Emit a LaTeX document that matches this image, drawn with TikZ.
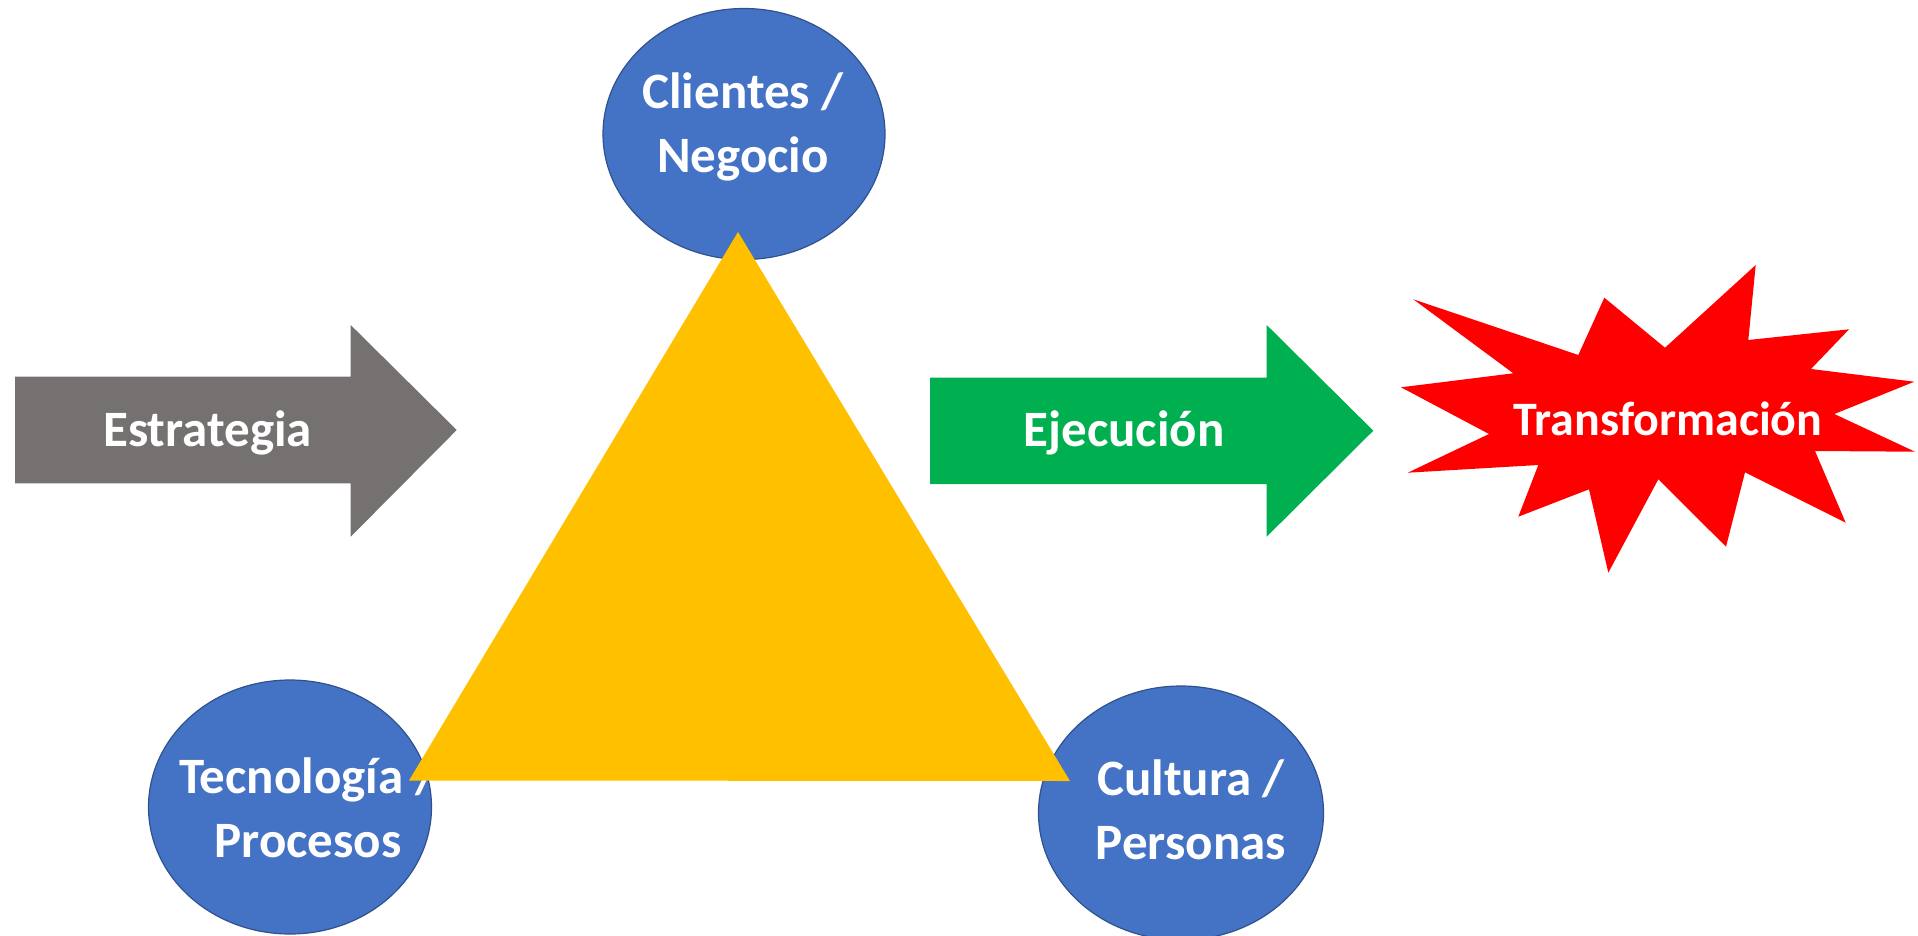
\documentclass[tikz,border=0pt]{standalone}
\usepackage{fontspec}
\setmainfont{Carlito}
\usetikzlibrary{shapes.geometric}
\definecolor{cblue}{HTML}{4472C4}
\definecolor{cbluedark}{HTML}{2F528F}
\definecolor{cgray}{HTML}{767171}
\definecolor{cgreen}{HTML}{00B050}
\definecolor{cyellow}{HTML}{FFC000}
\definecolor{cred}{HTML}{FF0000}
\begin{document}
\begin{tikzpicture}[x=1pt,y=-1pt,
  circ/.style={ellipse, fill=cblue, draw=cbluedark, line width=1.2pt, inner sep=0pt},
  lbl/.style={text=white, font=\fontsize{51}{64}\selectfont\bfseries, inner sep=0pt, align=center},
]
\useasboundingbox (0,0) rectangle (1918,936);
% circles
\node[circ, minimum width=282, minimum height=251] (cli) at (744,134) {};
\node[circ, minimum width=283, minimum height=254] (tec) at (290,807) {};
\node[circ, minimum width=285, minimum height=254] (cul) at (1181,813) {};
\node[lbl] (clit) at (743,127) {Clientes /\\Negocio};
\node[lbl] (tect) at (308,808) {Tecnología /\\Procesos};
\node[lbl] (cult) at (1191,810) {Cultura /\\Personas};
% triangle
\coordinate (ta) at (738,232);
\coordinate (tb) at (409,780.5);
\coordinate (tc) at (1070,781);
\fill[cyellow] (ta) -- (tb) -- (tc) -- cycle;
% arrows
\fill[cgray] (15,376.7) -- (350.7,376.7) -- (350.7,325) -- (456.7,430) -- (350.7,536.7) -- (350.7,483.3) -- (15,483.3) -- cycle;
\node[lbl, anchor=base] (est) at (207.5,446.7) {Estrategia};
\fill[cgreen] (930,377.7) -- (1266.7,377.7) -- (1266.7,325) -- (1373.3,430.7) -- (1266.7,536.7) -- (1266.7,484) -- (930,484) -- cycle;
\node[lbl, anchor=base] (eje) at (1124,446) {Ejecución};
% starburst
\fill[cred] (1413.3,299.3) -- (1578.3,355) -- (1604.3,297.7) -- (1665,347.7) -- (1755.7,265) -- (1748.3,340) -- (1849,329.3) -- (1811,369) -- (1914.3,381.7) -- (1834.3,414) -- (1915,451.7) -- (1815,451) -- (1845.7,522.7) -- (1745,472.3) -- (1726,546.7) -- (1658.3,479.3) -- (1608.3,572.7) -- (1589,489.3) -- (1518.3,516.7) -- (1538.3,465) -- (1407.7,472.7) -- (1489,434) -- (1401,387.3) -- (1513.3,373.3) -- cycle;
\node[lbl, anchor=base, font=\fontsize{48}{58}\selectfont\bfseries] (tra) at (1668,435) {Transformación};
\end{tikzpicture}
\end{document}
